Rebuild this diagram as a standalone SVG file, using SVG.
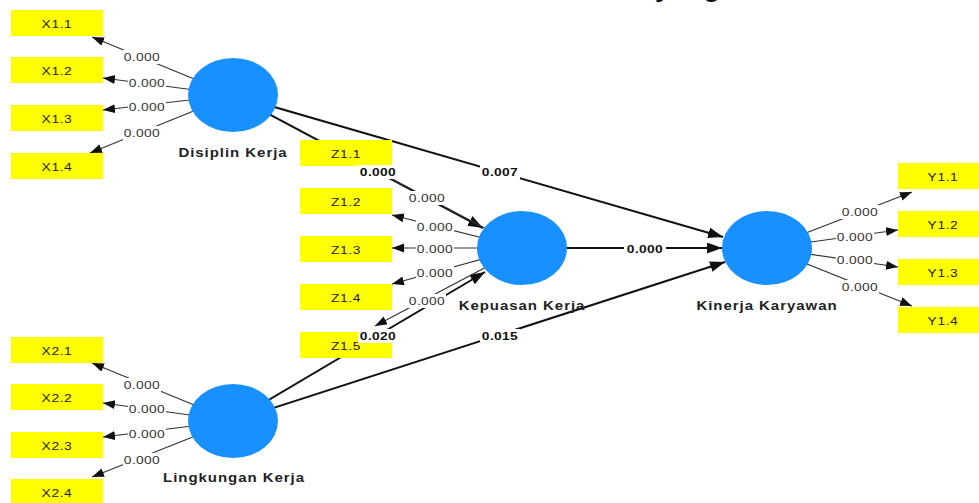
<svg xmlns="http://www.w3.org/2000/svg" width="979" height="503" viewBox="0 0 979 503">
<defs>
<style>
.box{fill:#FFFF00}
.lv{fill:#1890FF}
.bt{font-family:"Liberation Sans",Arial,sans-serif;font-size:11.5px;fill:#222;letter-spacing:0.5px;text-anchor:middle}
.nm{font-family:"Liberation Sans",Arial,sans-serif;font-size:12.5px;font-weight:bold;fill:#222;letter-spacing:0.8px;text-anchor:middle}
.ld{font-family:"Liberation Sans",Arial,sans-serif;font-size:11.5px;fill:#333;letter-spacing:0.3px;text-anchor:middle}
.pc{font-family:"Liberation Sans",Arial,sans-serif;font-size:11.5px;font-weight:bold;fill:#111;letter-spacing:0.3px;text-anchor:middle}
.bg{fill:#fff}
.main{stroke:#111;stroke-width:2;fill:none;marker-end:url(#am)}
.load{stroke:#333;stroke-width:1.2;fill:none;marker-end:url(#al)}
.load0{stroke:#333;stroke-width:1.2;fill:none}
.ttl{font-family:"Liberation Sans",Arial,sans-serif;font-size:28px;font-weight:bold;fill:#111}
</style>
<marker id="am" markerUnits="userSpaceOnUse" markerWidth="16" markerHeight="12" refX="15" refY="5.5" orient="auto"><path d="M0,0 L15,5.5 L0,11 z" fill="#111"/></marker>
<marker id="al" markerUnits="userSpaceOnUse" markerWidth="13" markerHeight="10" refX="12" refY="4.5" orient="auto"><path d="M0,0 L12,4.5 L0,9 z" fill="#111"/></marker>
</defs>
<rect width="979" height="503" fill="#fff"/>
<text class="ttl" x="655" y="-4.5">yang</text>

<g id="connectors">
<path class="main" d="M233,95 L483,228"/>
<path class="main" d="M233,95 L723,237"/>
<path class="main" d="M233,421 L485,272"/>
<path class="main" d="M233,421 L725,262"/>
<path class="main" d="M522,248 L722,248"/>
<path class="load" d="M233,95 L92,37"/>
<path class="load" d="M233,95 L103,78"/>
<path class="load" d="M233,95 L103,110"/>
<path class="load" d="M233,95 L90,153"/>
<path class="load" d="M233,421 L92,363"/>
<path class="load" d="M233,421 L103,403"/>
<path class="load" d="M233,421 L103,437"/>
<path class="load" d="M233,421 L92,477"/>
<path class="load0" d="M522,248 L392,179"/>
<path class="load" d="M522,248 L392,215"/>
<path class="load" d="M522,248 L392,248"/>
<path class="load" d="M522,248 L392,284"/>
<path class="load" d="M522,248 L375,326"/>
<path class="load" d="M767,248 L912,192"/>
<path class="load" d="M767,248 L898,230"/>
<path class="load" d="M767,248 L898,267"/>
<path class="load" d="M767,248 L912,306"/>
</g>

<g id="disiplin-kerja"><ellipse class="lv" cx="233" cy="95" rx="45" ry="37"/><text class="nm" transform="translate(233,157) scale(1.2,1)">Disiplin Kerja</text></g>
<g id="lingkungan-kerja"><ellipse class="lv" cx="233" cy="421" rx="45" ry="37"/><text class="nm" transform="translate(234,482) scale(1.2,1)">Lingkungan Kerja</text></g>
<g id="kepuasan-kerja"><ellipse class="lv" cx="522" cy="248" rx="45" ry="37"/><text class="nm" transform="translate(522,310) scale(1.2,1)">Kepuasan Kerja</text></g>
<g id="kinerja-karyawan"><ellipse class="lv" cx="767" cy="248" rx="45" ry="37"/><text class="nm" transform="translate(767,310) scale(1.2,1)">Kinerja Karyawan</text></g>

<g id="X1.1"><rect class="box" x="11" y="10" width="92" height="26"/><text class="bt" transform="translate(57,28) scale(1.2,1)">X1.1</text></g>
<g id="X1.2"><rect class="box" x="11" y="57" width="92" height="26"/><text class="bt" transform="translate(57,75) scale(1.2,1)">X1.2</text></g>
<g id="X1.3"><rect class="box" x="11" y="105" width="92" height="26"/><text class="bt" transform="translate(57,123) scale(1.2,1)">X1.3</text></g>
<g id="X1.4"><rect class="box" x="11" y="153" width="92" height="26"/><text class="bt" transform="translate(57,171) scale(1.2,1)">X1.4</text></g>
<g id="X2.1"><rect class="box" x="11" y="337" width="92" height="26"/><text class="bt" transform="translate(57,355) scale(1.2,1)">X2.1</text></g>
<g id="X2.2"><rect class="box" x="11" y="384" width="92" height="26"/><text class="bt" transform="translate(57,402) scale(1.2,1)">X2.2</text></g>
<g id="X2.3"><rect class="box" x="11" y="432" width="92" height="26"/><text class="bt" transform="translate(57,450) scale(1.2,1)">X2.3</text></g>
<g id="X2.4"><rect class="box" x="11" y="479" width="92" height="26"/><text class="bt" transform="translate(57,497) scale(1.2,1)">X2.4</text></g>
<g id="Z1.1"><rect class="box" x="300" y="140" width="92" height="26"/><text class="bt" transform="translate(346,158) scale(1.2,1)">Z1.1</text></g>
<g id="Z1.2"><rect class="box" x="300" y="188" width="92" height="26"/><text class="bt" transform="translate(346,206) scale(1.2,1)">Z1.2</text></g>
<g id="Z1.3"><rect class="box" x="300" y="236" width="92" height="26"/><text class="bt" transform="translate(346,254) scale(1.2,1)">Z1.3</text></g>
<g id="Z1.4"><rect class="box" x="300" y="284" width="92" height="26"/><text class="bt" transform="translate(346,302) scale(1.2,1)">Z1.4</text></g>
<g id="Z1.5"><rect class="box" x="300" y="332" width="92" height="26"/><text class="bt" transform="translate(346,350) scale(1.2,1)">Z1.5</text></g>
<g id="Y1.1"><rect class="box" x="898" y="163" width="92" height="26"/><text class="bt" transform="translate(943,181) scale(1.2,1)">Y1.1</text></g>
<g id="Y1.2"><rect class="box" x="898" y="211" width="92" height="26"/><text class="bt" transform="translate(943,229) scale(1.2,1)">Y1.2</text></g>
<g id="Y1.3"><rect class="box" x="898" y="259" width="92" height="26"/><text class="bt" transform="translate(943,277) scale(1.2,1)">Y1.3</text></g>
<g id="Y1.4"><rect class="box" x="898" y="307" width="92" height="26"/><text class="bt" transform="translate(943,325) scale(1.2,1)">Y1.4</text></g>

<g id="edge-labels">
<rect class="bg" x="123" y="50" width="38" height="14"/><text class="ld" transform="translate(142,61) scale(1.2,1)">0.000</text>
<rect class="bg" x="128" y="76" width="38" height="14"/><text class="ld" transform="translate(147,87) scale(1.2,1)">0.000</text>
<rect class="bg" x="128" y="100" width="38" height="14"/><text class="ld" transform="translate(147,111) scale(1.2,1)">0.000</text>
<rect class="bg" x="123" y="126" width="38" height="14"/><text class="ld" transform="translate(142,137) scale(1.2,1)">0.000</text>
<rect class="bg" x="123" y="378" width="38" height="14"/><text class="ld" transform="translate(142,389) scale(1.2,1)">0.000</text>
<rect class="bg" x="128" y="402" width="38" height="14"/><text class="ld" transform="translate(147,413) scale(1.2,1)">0.000</text>
<rect class="bg" x="128" y="427" width="38" height="14"/><text class="ld" transform="translate(147,438) scale(1.2,1)">0.000</text>
<rect class="bg" x="123" y="453" width="38" height="14"/><text class="ld" transform="translate(142,464) scale(1.2,1)">0.000</text>
<rect class="bg" x="408" y="191" width="38" height="14"/><text class="ld" transform="translate(427,202) scale(1.2,1)">0.000</text>
<rect class="bg" x="416" y="220" width="38" height="14"/><text class="ld" transform="translate(435,231) scale(1.2,1)">0.000</text>
<rect class="bg" x="416" y="242" width="38" height="14"/><text class="ld" transform="translate(435,253) scale(1.2,1)">0.000</text>
<rect class="bg" x="416" y="266" width="38" height="14"/><text class="ld" transform="translate(435,277) scale(1.2,1)">0.000</text>
<rect class="bg" x="408" y="294" width="38" height="14"/><text class="ld" transform="translate(427,305) scale(1.2,1)">0.000</text>
<rect class="bg" x="841" y="205" width="38" height="14"/><text class="ld" transform="translate(860,216) scale(1.2,1)">0.000</text>
<rect class="bg" x="836" y="230" width="38" height="14"/><text class="ld" transform="translate(855,241) scale(1.2,1)">0.000</text>
<rect class="bg" x="836" y="253" width="38" height="14"/><text class="ld" transform="translate(855,264) scale(1.2,1)">0.000</text>
<rect class="bg" x="841" y="280" width="38" height="14"/><text class="ld" transform="translate(860,291) scale(1.2,1)">0.000</text>
<rect class="bg" x="358" y="165" width="40" height="14"/><text class="pc" transform="translate(378,176) scale(1.2,1)">0.000</text>
<rect class="bg" x="480" y="165" width="40" height="14"/><text class="pc" transform="translate(500,176) scale(1.2,1)">0.007</text>
<rect class="bg" x="358" y="329" width="40" height="14"/><text class="pc" transform="translate(378,340) scale(1.2,1)">0.020</text>
<rect class="bg" x="480" y="329" width="40" height="14"/><text class="pc" transform="translate(500,340) scale(1.2,1)">0.015</text>
<rect class="bg" x="624" y="242" width="42" height="14"/><text class="pc" transform="translate(645,253) scale(1.2,1)">0.000</text>
</g>
</svg>
